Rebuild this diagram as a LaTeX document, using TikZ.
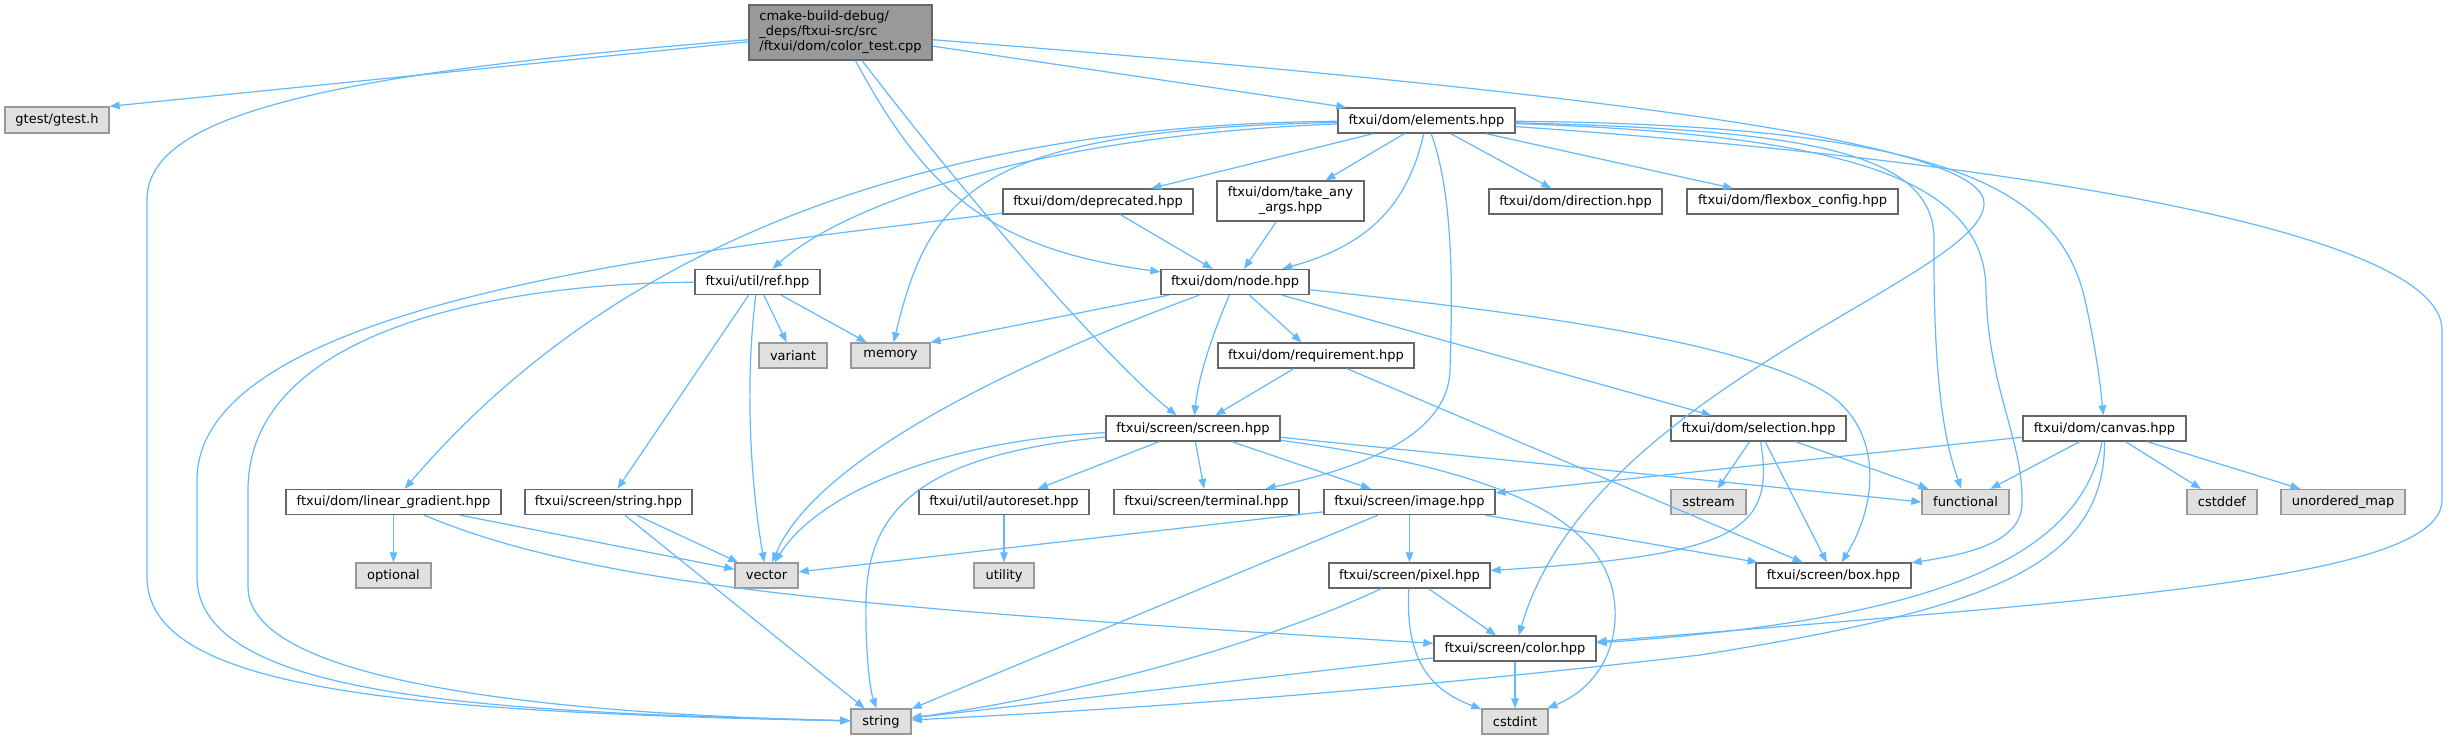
\documentclass[tikz,border=0pt]{standalone}
\usepackage{fontspec}
\setmainfont{DejaVu Sans}
\usetikzlibrary{arrows.meta}
\definecolor{edgeblue}{HTML}{63B8FF}
\definecolor{bordA}{HTML}{666666}
\definecolor{bordB}{HTML}{999999}
\definecolor{fillB}{HTML}{E0E0E0}
\definecolor{fillM}{HTML}{999999}
\tikzset{
  every node/.style={font=\fontsize{6.5}{7.5}\selectfont, inner sep=0pt, minimum height=12.5pt, line width=0.65pt},
  wd/.style={minimum width=#1*0.5pt},
  filebox/.style={draw=bordA, fill=white},
  sysbox/.style={draw=bordB, fill=fillB},
  mainbox/.style={draw=bordA, fill=fillM, align=left},
  dep/.style={draw=edgeblue, line width=0.6pt, -{Triangle[length=5pt,width=3.8pt]}},
}
\begin{document}
\begin{tikzpicture}[x=0.5pt,y=-0.5pt]
\useasboundingbox (0,0) rectangle (2448,740);
\fill[white] (0,0) rectangle (2448,740);
% nodes
\node[mainbox, wd=183, minimum height=27.5pt] (main) at (840.5,32.5) {cmake-build-debug/\\\_deps/ftxui-src/src\\/ftxui/dom/color\_test.cpp};
\node[sysbox, wd=104, minimum height=13pt] (gtest) at (57,120) {gtest/gtest.h};
\node[filebox, wd=177] (elements) at (1426.5,120.5) {ftxui/dom/elements.hpp};
\node[filebox, wd=190] (deprecated) at (1098,201.5) {ftxui/dom/deprecated.hpp};
\node[filebox, wd=147, minimum height=20pt, align=center] (takeany) at (1290.5,201) {ftxui/dom/take\_any\\\_args.hpp};
\node[filebox, wd=173] (direction) at (1575.5,201.5) {ftxui/dom/direction.hpp};
\node[filebox, wd=211] (flexbox) at (1792.5,201.5) {ftxui/dom/flexbox\_config.hpp};
\node[filebox, wd=125] (ref) at (757.5,282) {ftxui/util/ref.hpp};
\node[filebox, wd=148] (nodeh) at (1235,282) {ftxui/dom/node.hpp};
\node[sysbox, wd=68] (variant) at (793,355.5) {variant};
\node[sysbox, wd=79] (memory) at (890.5,355.5) {memory};
\node[filebox, wd=196] (requirement) at (1316,355.5) {ftxui/dom/requirement.hpp};
\node[filebox, wd=174] (screen) at (1193,428.5) {ftxui/screen/screen.hpp};
\node[filebox, wd=175] (selection) at (1758.5,428.5) {ftxui/dom/selection.hpp};
\node[filebox, wd=163] (canvas) at (2104.5,428.5) {ftxui/dom/canvas.hpp};
\node[filebox, wd=215] (lingrad) at (393.5,502) {ftxui/dom/linear\_gradient.hpp};
\node[filebox, wd=167] (strhpp) at (608.5,502) {ftxui/screen/string.hpp};
\node[filebox, wd=170] (autoreset) at (1004,502) {ftxui/util/autoreset.hpp};
\node[filebox, wd=185] (terminal) at (1206.5,502) {ftxui/screen/terminal.hpp};
\node[filebox, wd=171] (image) at (1409.5,502) {ftxui/screen/image.hpp};
\node[sysbox, wd=75] (sstream) at (1708.5,502) {sstream};
\node[sysbox, wd=87] (functional) at (1965.5,502) {functional};
\node[sysbox, wd=70] (cstddef) at (2222,502) {cstddef};
\node[sysbox, wd=124] (umap) at (2343,502) {unordered\_map};
\node[sysbox, wd=75] (optional) at (393.5,575.5) {optional};
\node[sysbox, wd=63] (vector) at (766.5,575.5) {vector};
\node[sysbox, wd=60] (utility) at (1004,575.5) {utility};
\node[filebox, wd=161] (pixel) at (1409.5,575.5) {ftxui/screen/pixel.hpp};
\node[filebox, wd=155] (box) at (1833.5,575.5) {ftxui/screen/box.hpp};
\node[filebox, wd=162] (color) at (1515,648.5) {ftxui/screen/color.hpp};
\node[sysbox, wd=60] (string) at (881,721.5) {string};
\node[sysbox, wd=66] (cstdint) at (1515,721.5) {cstdint};
% edges from main
\draw[dep] (main) -- (gtest.north east);
\draw[dep] (main) .. controls (300,75) and (147,120) .. (147,200) -- (147,577) .. controls (147,690) and (400,712) .. (string);
\draw[dep] (main) -- ([xshift=4.5pt]elements.north west);
\draw[dep] (main) .. controls (930,200) and (1000,250) .. (nodeh);
\draw[dep] (main) .. controls (1000,240) and (1120,370) .. (screen);
\draw[dep] (main) .. controls (1700,100) and (1990,150) .. (1984,205) .. controls (1978,280) and (1590,390) .. (color);
% edges from elements
\draw[dep] (elements) -- (deprecated);
\draw[dep] (elements) -- (takeany);
\draw[dep] (elements) -- (direction);
\draw[dep] (elements) -- (flexbox);
\draw[dep] (elements) .. controls (1405,220) and (1350,250) .. (nodeh);
\draw[dep] (elements) .. controls (980,130) and (930,190) .. (memory);
\draw[dep] (elements) .. controls (1050,135) and (850,200) .. (ref);
\draw[dep] (elements) .. controls (900,125) and (600,260) .. (lingrad);
\draw[dep] (elements) .. controls (1455,200) and (1452,300) .. (1450,370) .. controls (1448,440) and (1350,470) .. (terminal);
\draw[dep] (elements) .. controls (1800,130) and (1935,150) .. (1934,240) .. controls (1933,400) and (1948,450) .. (functional);
\draw[dep] (elements) .. controls (1850,135) and (1985,180) .. (1986,290) .. controls (1988,390) and (2024,440) .. (2022,505) .. controls (2020,545) and (1960,555) .. (box);
\draw[dep] (elements) .. controls (1950,125) and (2060,190) .. (2085,300) .. controls (2095,345) and (2100,380) .. (canvas);
\draw[dep] (elements) .. controls (2000,160) and (2442,230) .. (2442,330) -- (2442,500) .. controls (2442,580) and (2100,600) .. (color);
% deprecated, take_any
\draw[dep] (deprecated) -- (nodeh);
\draw[dep] (deprecated) .. controls (700,250) and (197,300) .. (197,480) -- (197,577) .. controls (197,700) and (500,712) .. (string);
\draw[dep] (takeany) -- (nodeh);
% ref
\draw[dep] (ref) .. controls (500,283) and (248,330) .. (248,490) -- (248,587) .. controls (248,690) and (600,715) .. (string);
\draw[dep] (ref) -- (variant);
\draw[dep] (ref) -- (memory);
\draw[dep] (ref) -- (strhpp);
\draw[dep] (ref) .. controls (745,380) and (750,480) .. (vector);
% node.hpp
\draw[dep] (nodeh) -- (memory.north east);
\draw[dep] (nodeh) .. controls (1050,350) and (820,450) .. (vector);
\draw[dep] (nodeh) .. controls (1210,340) and (1198,380) .. (screen);
\draw[dep] (nodeh) -- (requirement);
\draw[dep] (nodeh) -- (selection);
\draw[dep] (nodeh) .. controls (1600,320) and (1760,350) .. (1830,395) .. controls (1880,430) and (1880,500) .. (box);
% requirement
\draw[dep] (requirement) -- (screen);
\draw[dep] (requirement) -- (box);
% screen
\draw[dep] (screen) .. controls (920,455) and (868,510) .. (866,600) .. controls (865,650) and (870,690) .. (string);
\draw[dep] (screen) .. controls (950,440) and (820,490) .. (vector);
\draw[dep] (screen) -- (autoreset);
\draw[dep] (screen) -- (terminal);
\draw[dep] (screen) -- (image);
\draw[dep] (screen) -- (functional.west);
\draw[dep] (screen) .. controls (1500,470) and (1620,520) .. (1615,620) .. controls (1612,670) and (1580,695) .. (cstdint);
% linear_gradient, string.hpp, autoreset
\draw[dep] (lingrad) -- (optional);
\draw[dep] (lingrad) -- (vector);
\draw[dep] (lingrad) .. controls (600,590) and (900,610) .. (color);
\draw[dep] (strhpp) -- (vector);
\draw[dep] (strhpp) -- (string);
\draw[dep] (autoreset) -- (utility);
% image
\draw[dep] (image) -- (vector);
\draw[dep] (image) -- (string);
\draw[dep] (image) -- (pixel);
\draw[dep] (image) -- (box);
% pixel
\draw[dep] (pixel) .. controls (1250,650) and (1050,700) .. (string);
\draw[dep] (pixel) -- (color);
\draw[dep] (pixel) .. controls (1405,660) and (1430,690) .. (cstdint);
% color
\draw[dep] (color) -- (string);
\draw[dep] (color) -- (cstdint);
% selection
\draw[dep] (selection) -- (sstream);
\draw[dep] (selection) -- (functional);
\draw[dep] (selection) -- (box);
\draw[dep] (selection) .. controls (1775,530) and (1740,555) .. (pixel);
% canvas
\draw[dep] (canvas) -- (image);
\draw[dep] (canvas) -- (functional);
\draw[dep] (canvas) -- (cstddef);
\draw[dep] (canvas) -- (umap);
\draw[dep] (canvas) .. controls (2080,560) and (1930,620) .. (color);
\draw[dep] (canvas) .. controls (2105,570) and (1980,610) .. (1700,655) .. controls (1400,690) and (1150,708) .. (string);
\end{tikzpicture}
\end{document}
